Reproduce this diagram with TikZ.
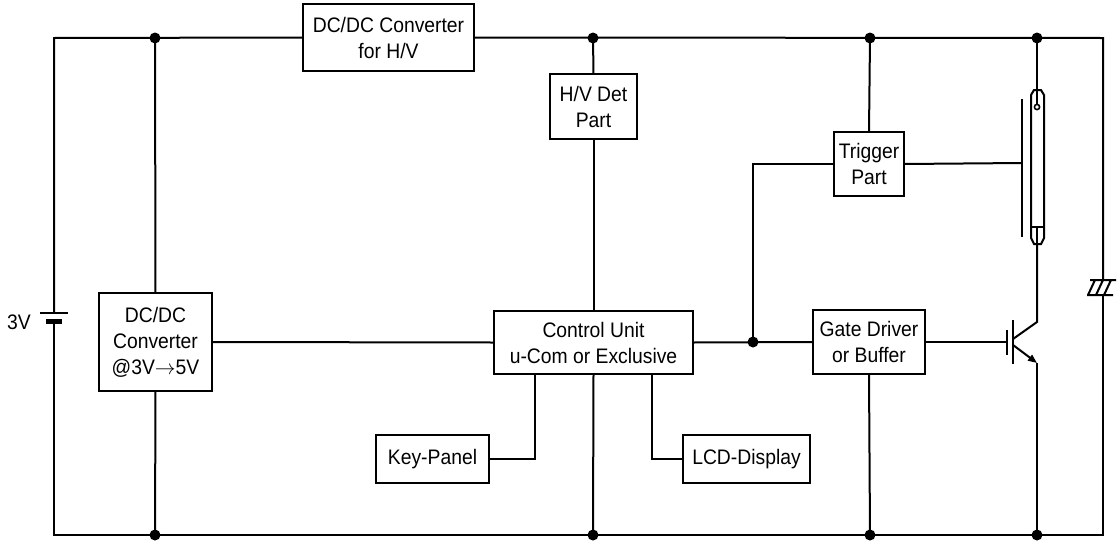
\documentclass[tikz,border=0pt]{standalone}
\usepackage{fontspec}
\setmainfont{Liberation Sans}[FakeStretch=0.92]
\usetikzlibrary{arrows.meta}
\begin{document}
\begin{tikzpicture}[x=1pt,y=-1pt,
  wire/.style={line width=2pt,line join=miter},
  blk/.style={draw,line width=2.4pt,inner sep=0pt,outer sep=0pt,align=center,
    font=\fontsize{21}{26}\selectfont},
  jdot/.style={circle,fill,inner sep=0pt,minimum size=11pt},
  lbl/.style={font=\fontsize{21}{26}\selectfont,inner sep=0pt}]
\useasboundingbox (0,0) rectangle (1119,544);
\fill[white] (0,0) rectangle (1119,544);
% blocks
\node[blk,minimum width=171pt,minimum height=67pt] (hvconv) at (388.5,37.5) {DC/DC Converter\\for H/V};
\node[blk,minimum width=87pt,minimum height=65pt] (hvdet) at (593.5,106.5) {H/V Det\\Part};
\node[blk,minimum width=70pt,minimum height=64pt] (trig) at (869,164) {Trigger\\Part};
\node[blk,minimum width=199pt,minimum height=63pt] (cu) at (593.5,342.5) {Control Unit\\u-Com or Exclusive};
\node[blk,minimum width=112pt,minimum height=64pt] (gd) at (869,342) {Gate Driver\\or Buffer};
\node[blk,minimum width=113pt,minimum height=98pt] (dcdc) at (155.5,342) {DC/DC\\Converter\\@3V$\rightarrow$5V};
\node[blk,minimum width=113pt,minimum height=48pt] (key) at (432.5,459) {Key-Panel};
\node[blk,minimum width=127pt,minimum height=48pt] (lcd) at (746.5,459) {LCD-Display};
% coordinates
\coordinate (tl) at (54,38);
\coordinate (tr) at (1103,38);
\coordinate (bl) at (54,535);
\coordinate (br) at (1103,535);
\coordinate (j1) at (155,38);
\coordinate (j2) at (593,38);
\coordinate (j3) at (870,38);
\coordinate (j4) at (1037,38);
\coordinate (k1) at (155,535);
\coordinate (k2) at (593,535);
\coordinate (k3) at (870,535);
\coordinate (k4) at (1037,535);
\coordinate (jm) at (753,342);
\coordinate (battop) at (54,313);
\coordinate (batbot) at (54,321);
\coordinate (captop) at (1103,280);
\coordinate (capbot) at (1103,295);
\coordinate (tubetop) at (1037,104);
\coordinate (tubebot) at (1037,244);
\coordinate (plate) at (1022,163);
\coordinate (gate) at (1007,342);
\coordinate (coll) at (1037,322);
\coordinate (emit) at (1037,363);
% rails
\draw[wire] (battop) -- (tl) -- (hvconv.west);
\draw[wire] (hvconv.east) -- (tr) -- (captop);
\draw[wire] (batbot) -- (bl) -- (br) -- (capbot);
% battery
\draw[line width=2pt] (40,313) -- (68,313);
\draw[line width=4.5pt] (46,321.5) -- (62,321.5);
\node[lbl] (bat) at (19,322) {3V};
% capacitor
\draw[line width=2pt] (1090,280) -- (1116,280) (1087,295) -- (1113,295)
  (1088,295) -- (1095,280) (1096,295) -- (1103,280) (1104,295) -- (1111,280);
% verticals
\draw[wire] (j1) -- (dcdc.north);
\draw[wire] (dcdc.south) -- (k1);
\draw[wire] (dcdc.east) -- (cu.west);
\draw[wire] (j2) -- (hvdet.north);
\draw[wire] (hvdet.south) -- (cu.north);
\draw[wire] (cu.south) -- (k2);
\draw[wire] (cu.east) -- (gd.west);
\draw[wire] (jm) |- (trig.west);
\draw[wire] (j3) -- (trig.north);
\draw[wire] (trig.east) -- (plate);
\draw[wire] (gd.south) -- (k3);
\draw[wire] (key.east) -| (535,375);
\draw[wire] (652,375) |- (lcd.west);
\draw[wire] (gd.east) -- (gate);
% flash tube
\draw[wire] (j4) -- (tubetop);
\draw[line width=2pt] (1034,90) -- (1041,90) -- (1044,95) -- (1044,238) -- (1041,244) -- (1034,244) -- (1031,238) -- (1031,95) -- cycle;
\draw[line width=2pt] (1031,227) -- (1044,227);
\draw[line width=1.6pt] (1037,107) circle (2.6pt);
\draw[line width=2pt] (1022,99) -- (1022,237);
\draw[wire] (1037,227) -- (tubebot);
% transistor
\draw[wire] (tubebot) -- (coll) -- (1013,339);
\draw[line width=2pt] (1007,330) -- (1007,355);
\draw[line width=2pt] (1013,320) -- (1013,364);
\draw[line width=2pt,-{Triangle[length=9pt,width=7pt]}] (1013,345) -- (emit);
\draw[wire] (emit) -- (k4);
% dots
\foreach \p in {j1,j2,j3,j4,k1,k2,k3,k4,jm} \node[jdot] at (\p) {};
\end{tikzpicture}
\end{document}
